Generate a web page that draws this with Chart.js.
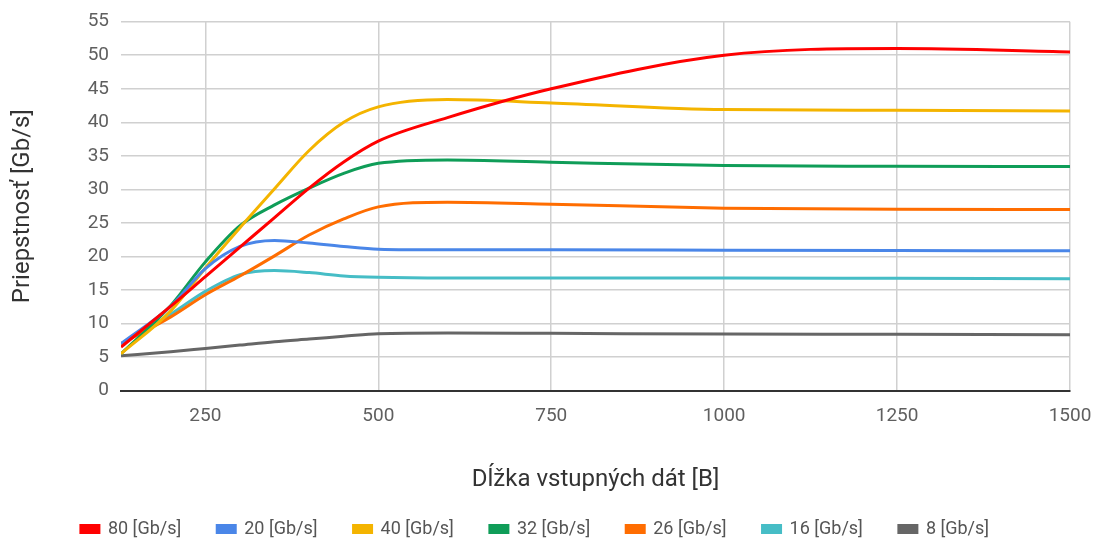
<!DOCTYPE html>
<html>
<head>
<meta charset="utf-8">
<script src="https://cdn.jsdelivr.net/npm/chart.js@4.4.1/dist/chart.umd.min.js"></script>
<style>
  html, body { margin: 0; padding: 0; background: #ffffff; }
  #wrap { width: 1096px; height: 540px; position: relative; }
</style>
</head>
<body>
<div id="wrap"><canvas id="c" width="1096" height="540"></canvas></div>
<script>
// Data length [B]
const lengths = [128, 200, 250, 300, 350, 400, 450, 500, 600, 750, 1000, 1250, 1500];
// Throughput [Gb/s] per link speed
const s80 = [6.5, 12.6, 17.0, 21.4, 25.8, 30.2, 34.1, 37.2, 40.7, 45.0, 50.0, 51.0, 50.5];
const s20 = [7.0, 12.6, 18.2, 21.5, 22.4, 22.0, 21.5, 21.1, 21.0, 21.0, 20.95, 20.9, 20.85];
const s40 = [5.5, 11.9, 18.3, 24.3, 30.1, 35.8, 40.0, 42.3, 43.4, 42.9, 41.9, 41.8, 41.7];
const s32 = [5.5, 12.7, 19.2, 24.6, 27.7, 30.2, 32.4, 33.9, 34.4, 34.05, 33.55, 33.45, 33.4];
const s26 = [7.0, 11.0, 14.3, 17.1, 20.1, 23.2, 25.6, 27.4, 28.1, 27.8, 27.2, 27.05, 27.0];
const s16 = [7.0, 11.4, 14.8, 17.3, 17.9, 17.6, 17.1, 16.9, 16.8, 16.8, 16.8, 16.75, 16.7];
const s8  = [5.2, 5.8, 6.3, 6.8, 7.3, 7.7, 8.1, 8.5, 8.6, 8.55, 8.45, 8.4, 8.35];

const seriesNames = ['80 [Gb/s]', '20 [Gb/s]', '40 [Gb/s]', '32 [Gb/s]', '26 [Gb/s]', '16 [Gb/s]', '8 [Gb/s]'];
const seriesValues = [s80, s20, s40, s32, s26, s16, s8];
const seriesColors = ['#ff0000', '#4a86e8', '#f4b400', '#0f9d58', '#ff6d01', '#46bdc6', '#666666'];

const xTicks = [250, 500, 750, 1000, 1250, 1500];
const yTicks = [0, 5, 10, 15, 20, 25, 30, 35, 40, 45, 50, 55];

const datasets = seriesNames.map((name, i) => ({
  label: name,
  data: lengths.map((x, j) => ({ x: x, y: seriesValues[i][j] })),
  borderColor: seriesColors[i],
  backgroundColor: seriesColors[i],
  borderWidth: 3,
  pointRadius: 0,
  pointHoverRadius: 0,
  fill: false,
  cubicInterpolationMode: 'monotone'
}));

const FONT = 'Roboto, "Noto Sans", sans-serif';

new Chart(document.getElementById('c'), {
  type: 'line',
  data: { datasets },
  options: {
    responsive: false,
    animation: false,
    devicePixelRatio: 1,
    layout: { padding: { left: 0, right: 26, top: 21.7, bottom: -8 } },
    plugins: {
      tooltip: { enabled: false },
      legend: {
        position: 'bottom',
        labels: {
          boxWidth: 18,
          boxHeight: 7,
          padding: 36,
          color: '#555555',
          font: { family: FONT, size: 18 }
        }
      }
    },
    scales: {
      x: {
        type: 'linear',
        min: 128,
        max: 1500,
        afterBuildTicks: (scale) => { scale.ticks = xTicks.map(v => ({ value: v })); },
        afterFit: (scale) => { scale.height = 93.3; scale.paddingLeft = 0; scale.paddingRight = 0; },
        grid: { color: '#d0d0d0', lineWidth: 1.5, drawTicks: false },
        border: { display: true, color: '#333333', width: 2 },
        ticks: {
          color: '#5f5f5f',
          padding: 14,
          font: { family: FONT, size: 19 },
          maxRotation: 0,
          autoSkip: false,
          callback: (v) => String(v)
        },
        title: {
          display: true,
          text: 'Dĺžka vstupných dát [B]',
          color: '#333333',
          font: { family: FONT, size: 24 },
          padding: { top: 0, bottom: -10.4 }
        }
      },
      y: {
        type: 'linear',
        min: 0,
        max: 55,
        afterBuildTicks: (scale) => { scale.ticks = yTicks.map(v => ({ value: v })); },
        afterFit: (scale) => { scale.width = 121; scale.paddingTop = 0; scale.paddingBottom = 0; },
        grid: {
          color: (ctx) => ctx.tick && ctx.tick.value === 0 ? '#333333' : '#d0d0d0',
          lineWidth: (ctx) => ctx.tick && ctx.tick.value === 0 ? 2 : 1.5,
          drawTicks: false
        },
        border: { display: false },
        ticks: {
          color: '#5f5f5f',
          padding: 12,
          font: { family: FONT, size: 19 },
          autoSkip: false,
          callback: (v) => String(v)
        },
        title: {
          display: true,
          text: 'Priepstnosť [Gb/s]',
          color: '#333333',
          font: { family: FONT, size: 24 },
          padding: { top: 9, bottom: 0 }
        }
      }
    }
  }
});
</script>
</body>
</html>
